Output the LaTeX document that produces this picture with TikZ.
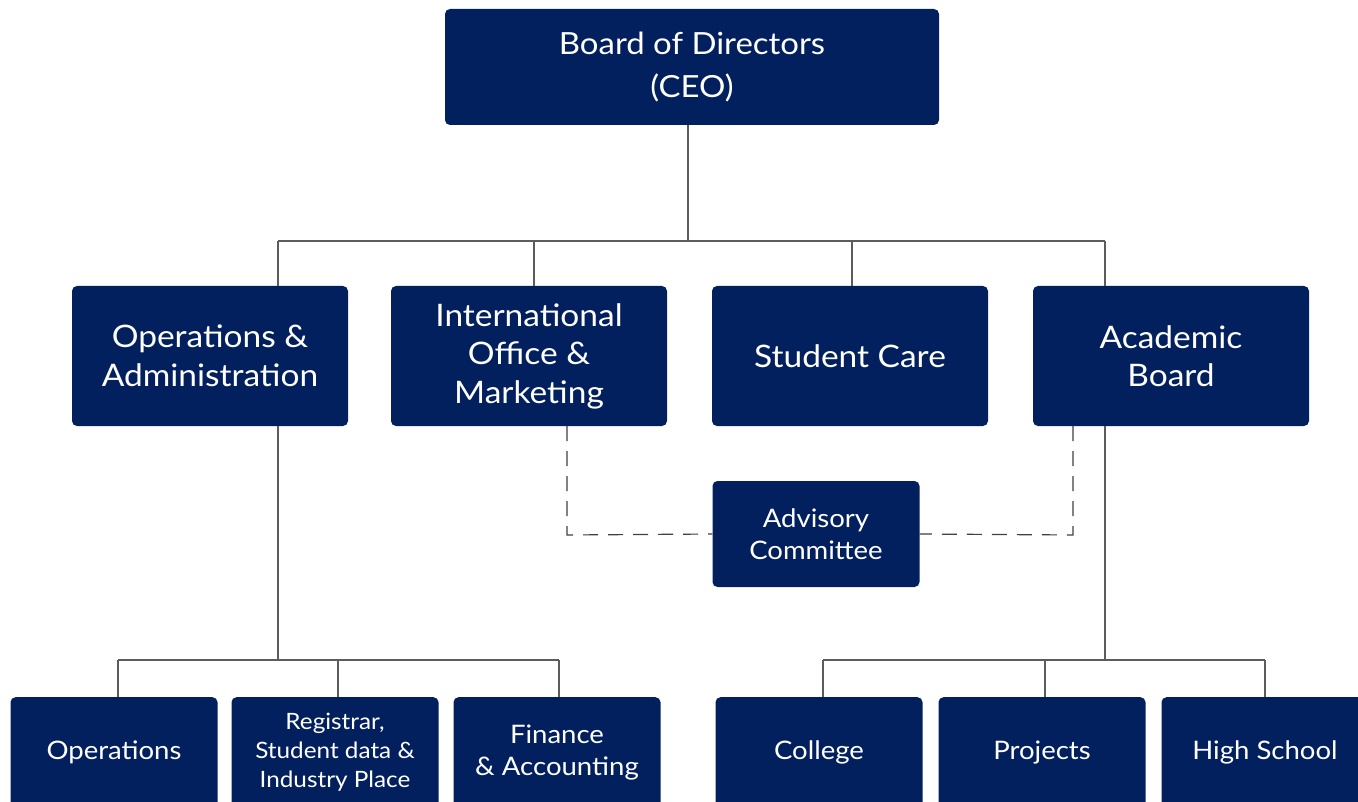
\documentclass[tikz,border=0pt]{standalone}
\usepackage{fontspec}
\setmainfont{Lato}[FakeStretch=1.08]
\usetikzlibrary{positioning}
\definecolor{navy}{HTML}{03205E}
\definecolor{linegray}{HTML}{5C5C5C}

\begin{document}
\begin{tikzpicture}[x=1pt,y=-1pt,
                    unit/.style={fill=navy,text=white,rounded corners=5pt,align=center,inner sep=0pt},
                    big/.style={unit,minimum width=276pt,minimum height=140pt,font=\fontsize{31}{38.5}\selectfont},
                    small/.style={unit,minimum width=207pt,minimum height=110pt,anchor=north,font=\fontsize{25.5}{31}\selectfont},
                    wire/.style={draw=linegray,line width=1.5pt},
                    link/.style={draw=black!75,line width=1.2pt,dash pattern=on 15pt off 10pt}]
	\useasboundingbox (0,0) rectangle (1358,802);
	\clip (0,0) rectangle (1358,802);
	\fill[white] (0,0) rectangle (1358,802);

	\node[unit,minimum width=494pt,minimum height=116pt,font=\fontsize{30.5}{43}\selectfont]
			(ceo) at (692,67) {Board of Directors\\(CEO)};

	\node[big]	(ops)	at (210,356)	{Operations \&\\Administration};
	\node[big]	(intl)	at (529,356)	{International\\Office \&\\Marketing};
	\node[big]	(care)	at (850,356)	{Student Care};
	\node[big]	(acad)	at (1171,356)	{Academic\\Board};

	\node[unit,minimum width=207pt,minimum height=106pt,font=\fontsize{25.5}{32}\selectfont]
			(adv) at (816,534) {Advisory\\Committee};

	\node[small]	(opsA)	at (114,697)	{Operations};
	\node[small,font=\fontsize{22.5}{29}\selectfont]
			(opsB)	at (335,697)	{Registrar,\\Student data \&\\Industry Place};
	\node[small,font=\fontsize{25.5}{32}\selectfont]
			(opsC)	at (557,697)	{Finance\\\& Accounting};
	\node[small]	(acA)	at (819,697)	{College};
	\node[small]	(acB)	at (1042,697)	{Projects};
	\node[small]	(acC)	at (1265,697)	{High School};

	% top level
	\coordinate (top) at (688,241);
	\coordinate (j1) at (278,241);
	\coordinate (j2) at (534,241);
	\coordinate (j3) at (852,241);
	\coordinate (j4) at (1105,241);
	\draw[wire] (ceo.south -| top) -- (top);
	\draw[wire] (j1) -- (j4);
	\foreach \j/\n in {j1/ops,j2/intl,j3/care,j4/acad}
		\draw[wire] (\j) -- (\j |- \n.north);

	% operations
	\coordinate (opsdown) at (278,660);
	\coordinate (k1) at (118,660);
	\coordinate (k2) at (338,660);
	\coordinate (k3) at (559,660);
	\draw[wire] (ops.south -| opsdown) -- (opsdown);
	\draw[wire] (k1) -- (k3);
	\foreach \k/\n in {k1/opsA,k2/opsB,k3/opsC}
		\draw[wire] (\k) -- (\k |- \n.north);

	% academic
	\coordinate (acdown) at (1105,660);
	\coordinate (m1) at (823,660);
	\coordinate (m2) at (1045,660);
	\coordinate (m3) at (1265,660);
	\draw[wire] (acad.south -| acdown) -- (acdown);
	\draw[wire] (m1) -- (m3);
	\foreach \m/\n in {m1/acA,m2/acB,m3/acC}
		\draw[wire] (\m) -- (\m |- \n.north);

	% advisory
	\coordinate (d1) at (567,535);
	\coordinate (d2) at (1073,535);
	\draw[link] (intl.south -| d1) -- (d1) -- (adv.west);
	\draw[link] (acad.south -| d2) -- (d2) -- (adv.east);
\end{tikzpicture}
\end{document}
